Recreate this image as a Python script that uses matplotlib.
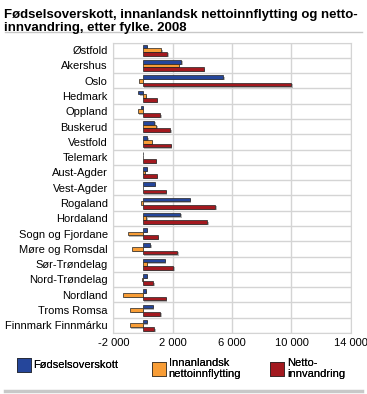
import matplotlib
matplotlib.use("Agg")
import matplotlib.pyplot as plt
import matplotlib.patheffects as pe
import numpy as np

plt.rcParams['font.family'] = ['Liberation Sans', 'DejaVu Sans']

fylke = ["Østfold", "Akershus", "Oslo", "Hedmark", "Oppland", "Buskerud",
         "Vestfold", "Telemark", "Aust-Agder", "Vest-Agder", "Rogaland",
         "Hordaland", "Sogn og Fjordane", "Møre og Romsdal", "Sør-Trøndelag",
         "Nord-Trøndelag", "Nordland", "Troms Romsa", "Finnmark Finnmárku"]

fodsel = [270, 2580, 5400, -310, -160, 760, 290, -30, 270, 810, 3140, 2510,
          270, 490, 1455, 270, 200, 670, 270]
innanl = [1230, 2420, -270, 200, -340, 900, 605, 0, 110, -20, -110, 220,
          -1010, -780, 270, -70, -1345, -870, -915]
netto = [1640, 4080, 9990, 940, 1165, 1840, 1860, 875, 920, 1545, 4860, 4320,
         985, 2310, 2040, 695, 1545, 1165, 760]

series = ["Fødselsoverskott", "Innanlandsk\nnettoinnflytting", "Netto-\ninnvandring"]
colors = ["#25469b", "#f89d36", "#a3191f"]
xticks = [-2000, 2000, 6000, 10000, 14000]

fig = plt.figure(figsize=(3.67, 3.94), dpi=100)
ax = fig.add_axes([0.309, 0.155, 0.647, 0.737])

n = len(fylke)
y = np.arange(n)
h = 0.24
shadow = [pe.withSimplePatchShadow(offset=(1, -1), shadow_rgbFace='#888888', alpha=0.6)]
handles = []
for i, (vals, c) in enumerate(zip([fodsel, innanl, netto], colors)):
    b = ax.barh(y + (i - 1) * h, vals, height=h, color=c, edgecolor='#222222',
                linewidth=0.5, zorder=3, path_effects=shadow)
    handles.append(b)

ax.set_ylim(n - 0.5, -0.5)
ax.set_xlim(-2000, 14000)
ax.set_xticks(xticks)
ax.set_xticklabels([f"{v:,}".replace(",", " ") for v in xticks], fontsize=8)
ax.set_yticks(y)
ax.set_yticklabels(fylke, fontsize=8)
ax.tick_params(length=0, pad=4)
ax.set_yticks(np.arange(n + 1) - 0.5, minor=True)
ax.tick_params(which='minor', length=0)
ax.grid(axis='x', color='#d4d4d4', linewidth=1, zorder=0)
ax.grid(axis='y', which='minor', color='#d4d4d4', linewidth=1, zorder=0)
for s in ax.spines.values():
    s.set_color('#d4d4d4')

fig.text(0.012, 0.978, "Fødselsoverskott, innanlandsk nettoinnflytting og netto-\ninnvandring, etter fylke. 2008",
         fontsize=9.5, fontweight='bold', va='top', ha='left', linespacing=1.12)
fig.add_artist(plt.Line2D([0.014, 0.986], [0.918, 0.918], color='#c8c8c8', linewidth=1))
fig.add_artist(plt.Line2D([0.014, 0.986], [0.008, 0.008], color='#c8c8c8', linewidth=2.5))

# one legend per series, placed like the original
for hd, lab, x0 in zip(handles, series, [0.046, 0.414, 0.736]):
    leg = fig.legend([hd], [lab], loc='upper left', bbox_to_anchor=(x0, 0.092),
                     frameon=False, fontsize=8, handlelength=1.25, handleheight=1.55,
                     handletextpad=0.25, borderpad=0, borderaxespad=0, labelspacing=0)
    fig.add_artist(leg)

fig.savefig("out.png", dpi=100)
